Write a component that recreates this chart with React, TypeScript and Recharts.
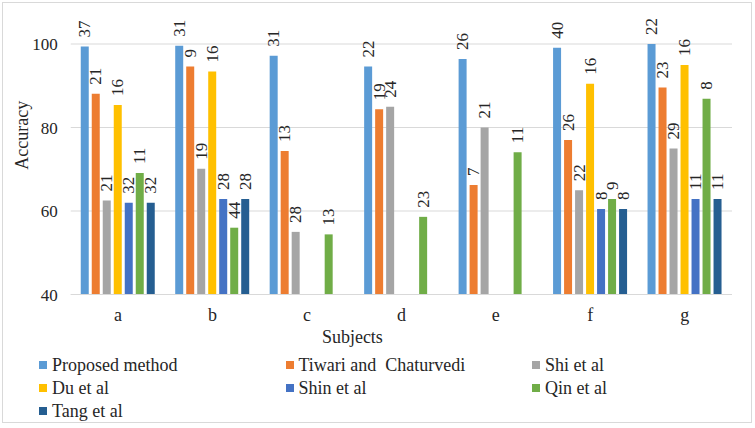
import React from 'react';
import { BarChart, Bar, XAxis, YAxis, CartesianGrid, LabelList } from 'recharts';

// subjects on the x axis
const categories = ['a', 'b', 'c', 'd', 'e', 'f', 'g'];

// accuracy (bar heights)
const proposed = [99.4, 99.6, 97.2, 94.6, 96.4, 99.1, 100];
const tiwari = [88.1, 94.6, 74.4, 84.4, 66.2, 77.0, 89.6];
const shi = [62.5, 70.1, 55.0, 85.0, 80.0, 65.0, 75.0];
const du = [85.4, 93.4, null, null, null, 90.5, 95.0];
const shin = [62.0, 62.9, null, null, null, 60.5, 62.9];
const qin = [69.1, 56.0, 54.4, 58.6, 74.1, 62.9, 86.9];
const tang = [62.0, 62.9, null, null, null, 60.5, 62.9];

// numbers printed above each bar
const proposedLbl = [37, 31, 31, 22, 26, 40, 22];
const tiwariLbl = [21, 9, 13, 19, 7, 26, 23];
const shiLbl = [21, 19, 28, 24, 21, 22, 29];
const duLbl = [16, 16, null, null, null, 16, 16];
const shinLbl = [32, 28, null, null, null, 8, 11];
const qinLbl = [11, 44, 13, 23, 11, 9, 8];
const tangLbl = [32, 28, null, null, null, 8, 11];

const yTicks = [40, 60, 80, 100];

const series = [
  { key: 'proposed', name: 'Proposed method', color: '#5B9BD5', values: proposed, labels: proposedLbl },
  { key: 'tiwari', name: 'Tiwari and  Chaturvedi', color: '#ED7D31', values: tiwari, labels: tiwariLbl },
  { key: 'shi', name: 'Shi et al', color: '#A5A5A5', values: shi, labels: shiLbl },
  { key: 'du', name: 'Du et al', color: '#FFC000', values: du, labels: duLbl },
  { key: 'shin', name: 'Shin et al', color: '#4472C4', values: shin, labels: shinLbl },
  { key: 'qin', name: 'Qin et al', color: '#70AD47', values: qin, labels: qinLbl },
  { key: 'tang', name: 'Tang et al', color: '#255E91', values: tang, labels: tangLbl },
];

const data = categories.map((c, i) => {
  const row: Record<string, any> = { name: c };
  series.forEach(s => {
    row[s.key] = s.values[i];
    row[s.key + 'Lbl'] = s.labels[i];
  });
  return row;
});

const FONT = '"Liberation Serif", "Times New Roman", serif';
const TEXT = '#262626';

const BarLabel = (props: any) => {
  const { x, y, width, value } = props;
  if (value === null || value === undefined) return null;
  const cx = x + width / 2;
  return (
    <text
      transform={`translate(${cx},${y - 9}) rotate(-90)`}
      textAnchor="start"
      dominantBaseline="central"
      fontFamily={FONT}
      fontSize={17}
      fill={TEXT}
    >
      {value}
    </text>
  );
};

export default function App() {
  return (
    <div style={{ position: 'absolute', left: 0, top: 0, width: 755, height: 428, background: '#fff' }}>
      <div
        style={{
          position: 'absolute',
          left: 2,
          top: 2,
          width: 748,
          height: 419,
          border: '1px solid #D9D9D9',
        }}
      />
      <div style={{ position: 'absolute', left: 0, top: 0 }}>
        <BarChart
          width={755}
          height={428}
          data={data}
          margin={{ top: 44, right: 23, left: 0, bottom: 103.5 }}
          barSize={8}
          barGap={3}
        >
          <CartesianGrid vertical={false} stroke="#D9D9D9" />
          <XAxis
            dataKey="name"
            height={30}
            axisLine={{ stroke: '#D9D9D9' }}
            tickLine={false}
            tickSize={0}
            tickMargin={14}
            tick={{ fontFamily: FONT, fontSize: 18, fill: TEXT }}
            label={(p: any) => {
              const vb = p.viewBox;
              return (
                <text
                  x={vb.x + vb.width / 2 - 49}
                  y={337}
                  textAnchor="middle"
                  dominantBaseline="central"
                  fontFamily={FONT}
                  fontSize={18}
                  fill={TEXT}
                >
                  Subjects
                </text>
              );
            }}
          />
          <YAxis
            width={70.75}
            domain={[40, 100]}
            ticks={yTicks}
            interval={0}
            axisLine={false}
            tickLine={false}
            tickSize={0}
            tickMargin={13}
            tick={{ fontFamily: FONT, fontSize: 17, fill: TEXT }}
            label={(p: any) => {
              const vb = p.viewBox;
              return (
                <text
                  transform={`translate(22,${vb.y + vb.height / 2 - 34}) rotate(-90)`}
                  textAnchor="middle"
                  dominantBaseline="central"
                  fontFamily={FONT}
                  fontSize={18}
                  fill={TEXT}
                >
                  Accuracy
                </text>
              );
            }}
          />
          {series.map(s => (
            <Bar key={s.key} dataKey={s.key} name={s.name} fill={s.color} isAnimationActive={false}>
              <LabelList dataKey={s.key + 'Lbl'} content={<BarLabel />} />
            </Bar>
          ))}
        </BarChart>
      </div>
      {series.map((s, i) => (
        <div
          key={s.key}
          style={{
            position: 'absolute',
            left: 39 + (i % 3) * 246.5,
            top: 365 + Math.floor(i / 3) * 23 - 11,
            height: 22,
            display: 'flex',
            alignItems: 'center',
            fontFamily: FONT,
            fontSize: 18,
            color: TEXT,
            whiteSpace: 'pre',
          }}
        >
          <span style={{ display: 'inline-block', width: 8, height: 8, background: s.color, marginRight: 5 }} />
          {s.name}
        </div>
      ))}
    </div>
  );
}
